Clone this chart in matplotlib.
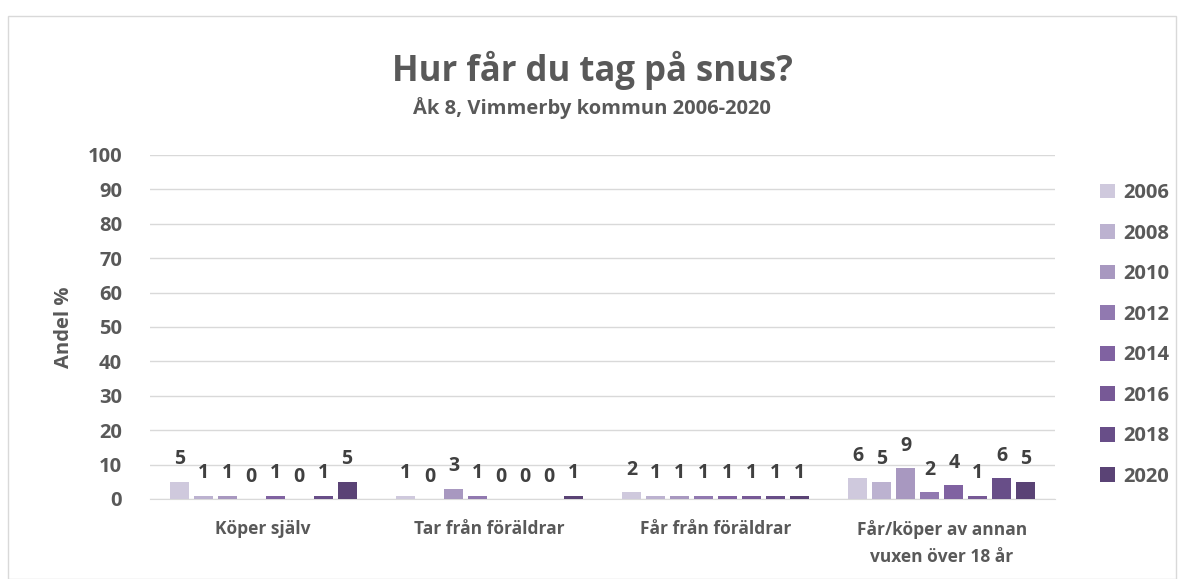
import matplotlib
matplotlib.use("Agg")
import matplotlib.pyplot as plt
import numpy as np
from matplotlib.patches import Rectangle, Patch

categories = ["Köper själv", "Tar från föräldrar", "Får från föräldrar", "Får/köper av annan\nvuxen över 18 år"]
years = ["2006", "2008", "2010", "2012", "2014", "2016", "2018", "2020"]
values = {
    "2006": [5, 1, 2, 6],
    "2008": [1, 0, 1, 5],
    "2010": [1, 3, 1, 9],
    "2012": [0, 1, 1, 2],
    "2014": [1, 0, 1, 4],
    "2016": [0, 0, 1, 1],
    "2018": [1, 0, 1, 6],
    "2020": [5, 1, 1, 5],
}
colors = ["#CFC9DD", "#BCB2D0", "#A898C0", "#9179B0", "#8062A1", "#775996", "#684E88", "#5A4375"]

plt.rcParams['font.family'] = ['Open Sans', 'DejaVu Sans']
txt = "#595959"
W = "bold"

fig = plt.figure(figsize=(11.84, 5.79), dpi=100)
ax = fig.add_axes([150/1184, 1-499/579, 905/1184, (499-155)/579])

x = np.arange(len(categories))
step = 0.106
width = 0.084
for i, y in enumerate(years):
    pos = x + (i - 3.5) * step
    ax.bar(pos, values[y], width, color=colors[i], label=y, zorder=3)
    for p, v in zip(pos, values[y]):
        ax.text(p, v + 3.6, str(v), ha="center", va="bottom", fontsize=14,
                fontweight=W, color="#404040")

ax.set_xlim(-0.5, len(categories) - 0.5)
ax.set_ylim(0, 100)
ax.set_yticks(range(0, 101, 10))
ax.grid(axis="y", color="#D9D9D9", linewidth=1, zorder=0)
for s in ["top", "right", "left"]:
    ax.spines[s].set_visible(False)
ax.spines["bottom"].set_color("#D9D9D9")
ax.tick_params(axis="both", length=0)
ax.set_xticks(x)
ax.set_xticklabels(categories, fontsize=12.5, fontweight=W, color=txt, linespacing=1.65)
ax.tick_params(axis="x", pad=15)
for lab in ax.get_yticklabels():
    lab.set_fontsize(14.5); lab.set_fontweight(W); lab.set_color(txt)
ax.tick_params(axis="y", pad=20)
ax.set_ylabel("Andel %", fontsize=14.5, fontweight=W, color=txt, labelpad=10)

fig.text(0.5, 1-70/579, "Hur får du tag på snus?", ha="center", va="center",
         fontsize=25, fontweight=W, color=txt)
fig.text(0.5, 1-108/579, "Åk 8, Vimmerby kommun 2006-2020", ha="center", va="center",
         fontsize=14.5, fontweight=W, color=txt)

handles = [Patch(facecolor=c, edgecolor="none") for c in colors]
leg = fig.legend(handles, years, loc="upper left", bbox_to_anchor=(1092/1184, 1-175/579),
                 frameon=False, fontsize=14.5, handlelength=0.75, handleheight=0.75,
                 labelspacing=1.02, handletextpad=0.4, borderaxespad=0)
for t in leg.get_texts():
    t.set_fontweight(W); t.set_color(txt)

fig.patches.append(Rectangle((8/1184, 0), 1 - 16/1184, 1 - 16/579, transform=fig.transFigure,
                             fill=False, edgecolor="#D9D9D9", linewidth=1))

fig.savefig("out.png", dpi=100)
